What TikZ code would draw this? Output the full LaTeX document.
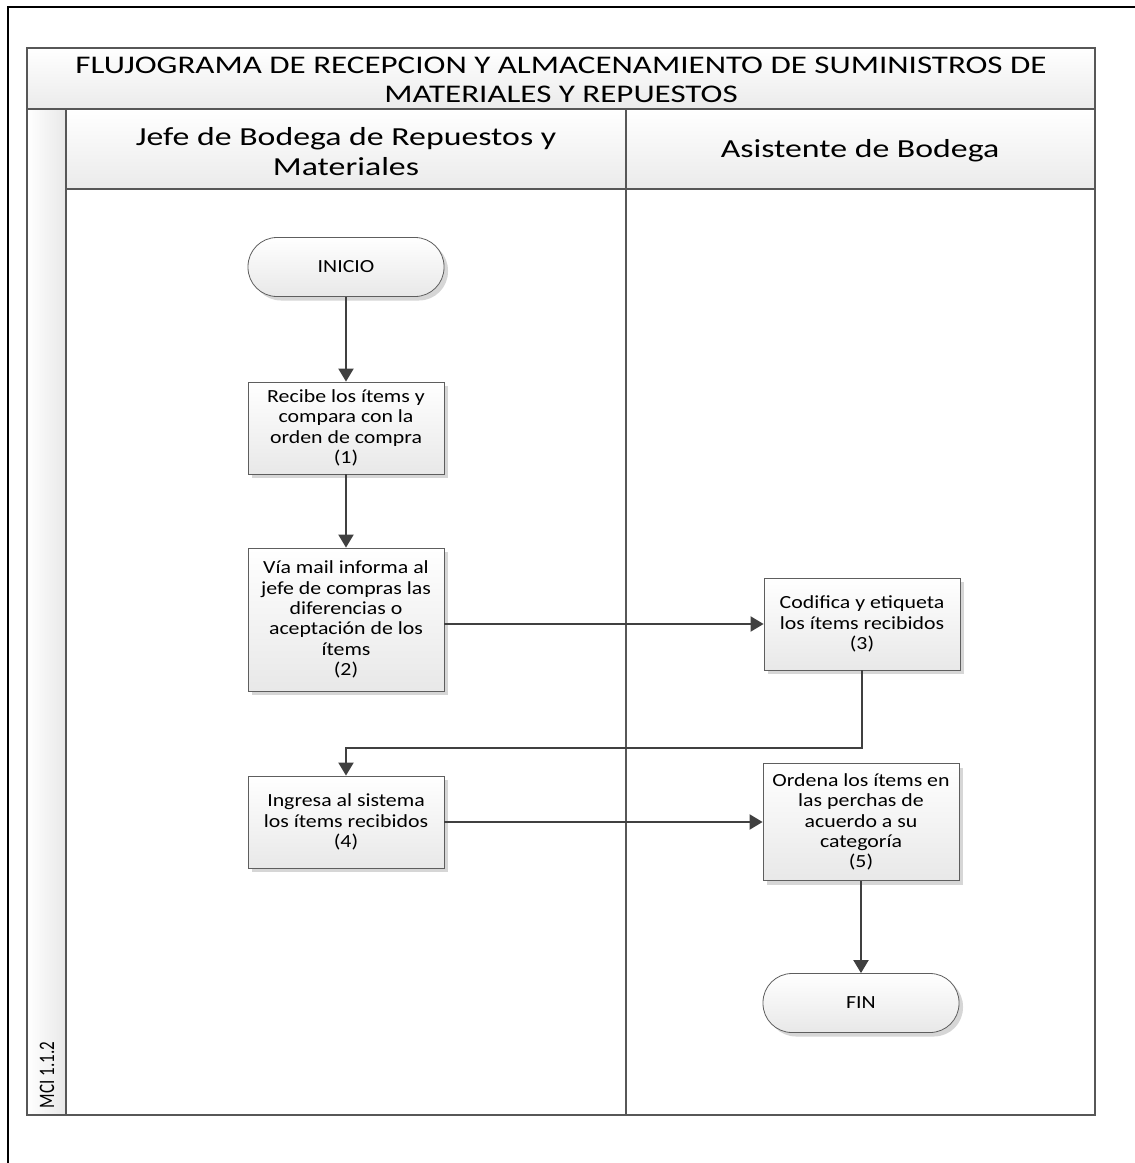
\documentclass[tikz,border=0pt]{standalone}
\usepackage{fontspec}
\setmainfont{Carlito}[FakeStretch=1.3]
\newfontfamily\boxfont{Carlito}[FakeStretch=1.18]
\newfontfamily\plainfont{Carlito}
\usetikzlibrary{arrows.meta,shadows,positioning}

\definecolor{linegray}{HTML}{404040}
\definecolor{lanegray}{HTML}{575757}
\definecolor{boxgray}{HTML}{5E5E5E}

\tikzset{
  stepbox/.style={draw=boxgray, line width=0.8pt, top color=white, bottom color=black!9,
    minimum width=196pt, minimum height=92pt, align=center, inner sep=4pt,
    font=\boxfont\fontsize{18.5}{20.3}\selectfont,
    drop shadow={shadow xshift=4pt, shadow yshift=-4pt, fill=black!16, opacity=1}},
  term/.style={stepbox, rounded corners=29pt, minimum width=196pt, minimum height=59pt},
  flow/.style={draw=linegray, line width=2pt, -{Triangle[length=13pt,width=15pt]}},
  lane/.style={draw=lanegray, line width=1.6pt},
  header/.style={font=\fontsize{26}{30}\selectfont, align=center}
}

\begin{document}
\begin{tikzpicture}[x=1pt, y=1pt]
  \useasboundingbox (0,0) rectangle (1135,-1163);

  % outer frame
  \draw[line width=2.4pt] (8,-1163) -- (8,-7) -- (1135,-7);

  % pool and lanes
  \shade[top color=white, bottom color=black!8] (27,-48) rectangle (1095,-109);
  \shade[left color=white, right color=black!9] (27,-109) rectangle (66,-1115);
  \shade[top color=white, bottom color=black!8] (66,-109) rectangle (1095,-189);
  \draw[lane] (27,-48) rectangle (1095,-1115);
  \draw[lane] (27,-109) -- (1095,-109);
  \draw[lane] (66,-109) -- (66,-1115);
  \draw[lane] (66,-189) -- (1095,-189);
  \draw[lane] (626,-109) -- (626,-1115);

  \node (titulo) [header, font=\fontsize{25.4}{29}\selectfont] at (561,-80)
    {FLUJOGRAMA DE RECEPCION Y ALMACENAMIENTO DE SUMINISTROS DE\\MATERIALES Y REPUESTOS};
  \node (jefe) [header] at (346,-152) {Jefe de Bodega de Repuestos y\\Materiales};
  \node (asist) [header] at (860,-151) {Asistente de Bodega};
  \node (codigo) [xscale=1.3, rotate=90, font=\plainfont\fontsize{17}{19}\selectfont] at (47,-1075) {MCI 1.1.2};

  % steps
  \node (inicio) [term] at (346,-267) {INICIO};
  \node (r1) [stepbox, below of=inicio, node distance=161pt]
    {Recibe los ítems y\\compara con la\\orden de compra\\(1)};
  \node (r2) [stepbox, below of=r1, node distance=191.5pt, minimum height=143pt]
    {Vía mail informa al\\jefe de compras las\\diferencias o\\aceptación de los\\ítems\\(2)};
  \node (r4) [stepbox, below of=r2, node distance=202.5pt]
    {Ingresa al sistema\\los ítems recibidos\\(4)};
  \node (r3) [stepbox] at (862,-624)
    {Codifica y etiqueta\\los ítems recibidos\\(3)};
  \node (r5) [stepbox, right of=r4, node distance=515pt, minimum height=117pt]
    {Ordena los ítems en\\las perchas de\\acuerdo a su\\categoría\\(5)};
  \node (fin) [term, below of=r5, node distance=181pt] {FIN};

  \coordinate (codo) at (862,-748);

  \path (inicio) edge[flow] (r1);
  \path (r1) edge[flow] (r2);
  \path (r2.east |- r3) edge[flow] (r3);
  \draw[flow] (r3) -- (codo) -| (r4);
  \path (r4) edge[flow] (r5);
  \path (r5) edge[flow] (fin);
\end{tikzpicture}
\end{document}
